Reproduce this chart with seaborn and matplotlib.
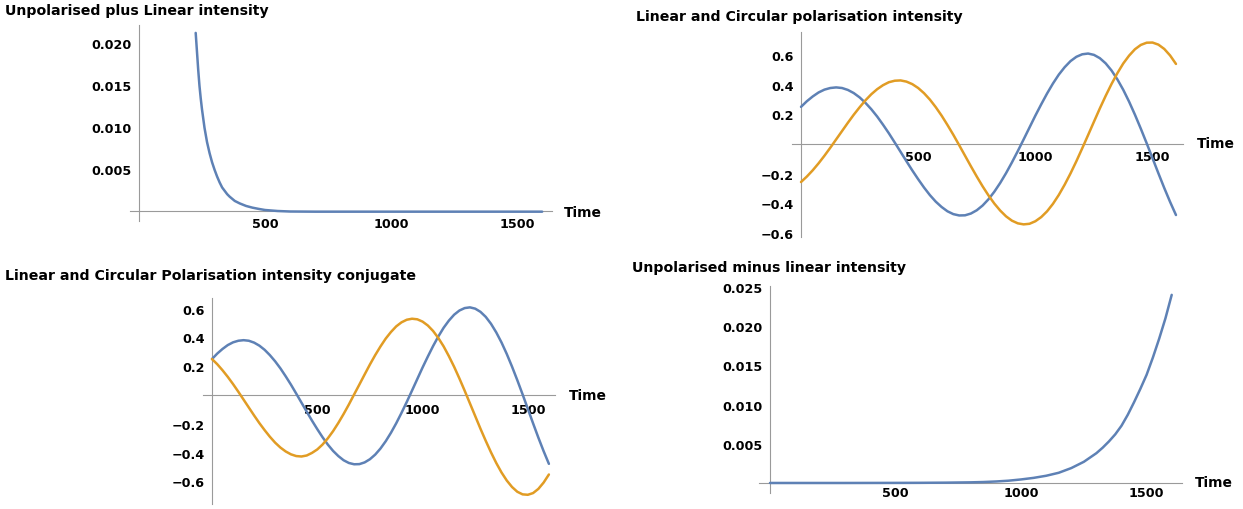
"""Four Mathematica-style intensity panels (axes crossing at the origin)."""
import matplotlib

matplotlib.use("Agg")
import matplotlib.pyplot as plt
from matplotlib.ticker import MultipleLocator
import seaborn as sns

sns.set_style("white")
plt.rcParams["font.family"] = ["DejaVu Sans"]
plt.rcParams["font.weight"] = "bold"

BLUE = "#5E81B5"
ORANGE = "#E19C24"
AXIS_GREY = "#9a9a9a"
FIG_W, FIG_H = 1243, 510

# ---- data --------------------------------------------------------------
# panel 1: unpolarised plus linear
t_plus = [225, 230, 235, 240, 245, 250, 260, 270, 280, 290, 300, 310, 320,
          330, 340, 350, 360, 380, 400, 425, 450, 475, 500, 550, 600, 700,
          800, 900, 1000, 1100, 1200, 1300, 1400, 1500, 1600]
i_plus = [0.0212, 0.0190, 0.0168, 0.0149, 0.0134, 0.0121, 0.0099, 0.0082,
          0.0069, 0.0058, 0.0049, 0.0041, 0.0034, 0.0028, 0.0024, 0.0020,
          0.0017, 0.0012, 0.0009, 0.0006, 0.0004, 0.00025, 0.00012, 0.0,
          -0.00006, -0.00008, -0.00008, -0.00008, -0.00008, -0.00008,
          -0.00008, -0.00008, -0.00008, -0.00008, -0.00008]

# panels 2 and 3: linear / circular polarisation
t_pol = [0, 25, 50, 75, 100, 125, 150, 175, 200, 225, 250, 275, 300, 325,
         350, 375, 400, 425, 450, 475, 500, 525, 550, 575, 600, 625, 650,
         675, 700, 725, 750, 775, 800, 825, 850, 875, 900, 925, 950, 975,
         1000, 1025, 1050, 1075, 1100, 1125, 1150, 1175, 1200, 1225, 1250,
         1275, 1300, 1325, 1350, 1375, 1400, 1425, 1450, 1475, 1500, 1525,
         1550, 1575, 1600]
linear = [0.250, 0.288, 0.320, 0.347, 0.366, 0.377, 0.381, 0.377, 0.364,
          0.343, 0.314, 0.277, 0.234, 0.185, 0.130, 0.072, 0.010, -0.053,
          -0.116, -0.178, -0.237, -0.293, -0.344, -0.388, -0.424, -0.453,
          -0.472, -0.481, -0.480, -0.468, -0.446, -0.414, -0.372, -0.321,
          -0.262, -0.196, -0.124, -0.048, 0.031, 0.111, 0.191, 0.267, 0.340,
          0.407, 0.467, 0.517, 0.558, 0.587, 0.604, 0.609, 0.600, 0.578,
          0.543, 0.495, 0.435, 0.365, 0.285, 0.197, 0.103, 0.005, -0.096,
          -0.197, -0.296, -0.390, -0.478]
circular = [-0.256, -0.219, -0.177, -0.130, -0.079, -0.025, 0.031, 0.087,
            0.143, 0.197, 0.247, 0.294, 0.335, 0.369, 0.396, 0.416, 0.426,
            0.428, 0.420, 0.403, 0.377, 0.342, 0.299, 0.248, 0.191, 0.128,
            0.062, -0.008, -0.079, -0.150, -0.219, -0.285, -0.346, -0.401,
            -0.448, -0.487, -0.516, -0.534, -0.541, -0.537, -0.520, -0.492,
            -0.453, -0.403, -0.343, -0.274, -0.198, -0.116, -0.029, 0.060,
            0.150, 0.239, 0.324, 0.404, 0.477, 0.542, 0.595, 0.638, 0.667,
            0.682, 0.683, 0.669, 0.640, 0.596, 0.539]
circular_conj = [0.250, 0.214, 0.172, 0.126, 0.076, 0.023, -0.032, -0.087,
                 -0.142, -0.195, -0.244, -0.290, -0.331, -0.365, -0.392,
                 -0.412, -0.424, -0.427, -0.420, -0.402, -0.378, -0.344,
                 -0.301, -0.251, -0.194, -0.132, -0.066, 0.004, 0.073, 0.143,
                 0.212, 0.277, 0.337, 0.392, 0.438, 0.477, 0.505, 0.523,
                 0.530, 0.526, 0.510, 0.483, 0.445, 0.396, 0.338, 0.270,
                 0.196, 0.115, 0.030, -0.058, -0.146, -0.234, -0.318,
                 -0.398, -0.472, -0.538, -0.594, -0.639, -0.672, -0.690,
                 -0.693, -0.681, -0.652, -0.608, -0.552]

# panel 4: unpolarised minus linear
t_minus = [0, 100, 200, 300, 400, 500, 600, 700, 800, 850, 900, 950, 1000,
           1050, 1100, 1150, 1200, 1250, 1300, 1325, 1350, 1375, 1400, 1425,
           1450, 1475, 1500, 1525, 1550, 1575, 1600]
i_minus = [0.0, 0.0, 0.0, 0.0, 0.000005, 0.00001, 0.00002, 0.00004, 0.00008,
           0.00012, 0.00019, 0.00029, 0.00045, 0.00065, 0.00092, 0.0013,
           0.0019, 0.0027, 0.0038, 0.0045, 0.0053, 0.0062, 0.0073, 0.0087,
           0.0103, 0.0120, 0.0138, 0.0160, 0.0184, 0.0210, 0.0240]

time_ticks = [500, 1000, 1500]
time_labels = ["500", "1000", "1500"]
small_ticks = [0.005, 0.010, 0.015, 0.020]
small_labels = ["0.005", "0.010", "0.015", "0.020"]
minus_ticks = [0.005, 0.010, 0.015, 0.020, 0.025]
minus_labels = ["0.005", "0.010", "0.015", "0.020", "0.025"]
pol_ticks = [-0.6, -0.4, -0.2, 0.2, 0.4, 0.6]
pol_labels = ["\u22120.6", "\u22120.4", "\u22120.2", "0.2", "0.4", "0.6"]


def _axes(fig, box, xlim, ylim, xpad):
    """Axes whose box is given in pixels (left, top, right, bottom)."""
    l, t, r, b = box
    ax = fig.add_axes([l / FIG_W, 1 - b / FIG_H, (r - l) / FIG_W, (b - t) / FIG_H])
    ax.set_xlim(*xlim)
    ax.set_ylim(*ylim)
    ax.patch.set_alpha(0)
    for side in ("top", "right"):
        ax.spines[side].set_visible(False)
    for side in ("left", "bottom"):
        ax.spines[side].set_position(("data", 0))
        ax.spines[side].set_color(AXIS_GREY)
        ax.spines[side].set_linewidth(0.8)
    ax.tick_params(which="both", direction="in", color=AXIS_GREY, width=0.7,
                   labelsize=9.2, labelcolor="black")
    ax.tick_params(which="major", length=3.5)
    ax.tick_params(which="minor", length=2)
    ax.tick_params(axis="x", pad=xpad)
    ax.tick_params(axis="y", pad=5)
    ax.set_xticks(time_ticks, labels=time_labels)
    ax.xaxis.set_minor_locator(MultipleLocator(100))
    return ax


def _line(ax, x, y, color):
    sns.lineplot(x=x, y=y, ax=ax, color=color, linewidth=1.8, zorder=3)


def _text(fig, x, y, s, size, va="baseline"):
    fig.text(x / FIG_W, 1 - y / FIG_H, s, ha="left", va=va, fontsize=size,
             fontweight="bold", color="black")


fig = plt.figure(figsize=(FIG_W / 100, FIG_H / 100), dpi=100)

# top left
ax1 = _axes(fig, (130, 26, 552, 222), (-35.7, 1639), (-0.00119, 0.02214), 4)
_line(ax1, t_plus, i_plus, BLUE)
ax1.set_yticks(small_ticks, labels=small_labels)
ax1.yaxis.set_minor_locator(MultipleLocator(0.001))

# top right
ax2 = _axes(fig, (792, 33, 1183, 238), (-38.4, 1630), (-0.626, 0.754), 4)
_line(ax2, t_pol, linear, BLUE)
_line(ax2, t_pol, circular, ORANGE)
ax2.set_yticks(pol_ticks, labels=pol_labels)
ax2.yaxis.set_minor_locator(MultipleLocator(0.05))

# bottom left
ax3 = _axes(fig, (203, 299, 555, 505), (-42.7, 1629), (-0.757, 0.674), 6)
_line(ax3, t_pol, linear, BLUE)
_line(ax3, t_pol, circular_conj, ORANGE)
ax3.set_yticks(pol_ticks, labels=pol_labels)
ax3.yaxis.set_minor_locator(MultipleLocator(0.05))

# bottom right
ax4 = _axes(fig, (759, 287, 1182, 494), (-43.8, 1641), (-0.00128, 0.02513), 2.5)
_line(ax4, t_minus, i_minus, BLUE)
ax4.set_yticks(minus_ticks, labels=minus_labels)
ax4.yaxis.set_minor_locator(MultipleLocator(0.001))

for ax in (ax1, ax2, ax3, ax4):
    ax.set_xlabel("")
    ax.set_ylabel("")

_text(fig, 5, 14.5, "Unpolarised plus Linear intensity", 10.2)
_text(fig, 636, 20.5, "Linear and Circular polarisation intensity", 10.2)
_text(fig, 5, 280, "Linear and Circular Polarisation intensity conjugate", 10.2)
_text(fig, 632, 272, "Unpolarised minus linear intensity", 10.2)

_text(fig, 564, 213, "Time", 9.9, va="center")
_text(fig, 1197, 144, "Time", 9.9, va="center")
_text(fig, 569, 396, "Time", 9.9, va="center")
_text(fig, 1195, 483, "Time", 9.9, va="center")

fig.savefig("out.png", dpi=100)
